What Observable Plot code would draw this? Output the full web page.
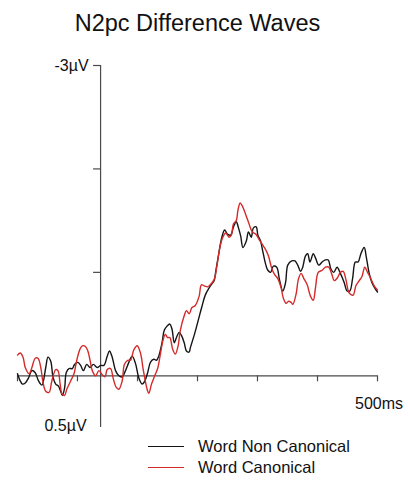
<!DOCTYPE html>
<html>
<head>
<meta charset="utf-8">
<script src="https://cdn.jsdelivr.net/npm/d3@7"></script>
<script src="https://cdn.jsdelivr.net/npm/@observablehq/plot@0.6"></script>
<style>
  html, body { margin: 0; padding: 0; background: #fff; }
  body { width: 410px; height: 480px; overflow: hidden; font-family: "Liberation Sans", Arial, sans-serif; color: #111; }
  #title { box-sizing: border-box; height: 40px; width: 395px; padding-top: 10px; text-align: center; font-size: 23.5px; line-height: 27px; }
  #chart svg { display: block; }
  #legend { box-sizing: border-box; padding-top: 1px; padding-left: 148px; }
  .row { display: flex; align-items: center; height: 21px; font-size: 16.5px; line-height: 21px; }
  .swatch { width: 36px; height: 0; border-top: 1.4px solid; margin-right: 14px; }
</style>
</head>
<body>
<div id="title"></div>
<div id="chart"></div>
<div id="legend"></div>
<script>
const title = "N2pc Difference Waves";
const seriesNames = ["Word Non Canonical", "Word Canonical"];
const seriesColors = ["#141414", "#d42a2a"];

// Word Non Canonical (black): time in ms, amplitude in µV (negative plotted up)
const ncTime = [-150,-145,-141,-136,-130,-124,-118,-112,-106,-99,-95,-90,-86,-81,-76,-72,-69,-65,-62,-57,-51,-47,-41,-36,-31,-25,-19,-13,-6,0,6,12,16,21,27,33,39,45,51,57,63,69,75,79,85,90,96,101,105,111,115,120,125,129,133,137,142,146,151,155,160,162,170,177,183,189,196,201,205,208,213,219,224,229,235,240,245,249,253,257,263,267,272,276,281,284,289,293,298,302,307,312,318,323,329,334,338,345,351,356,361,365,370,374,378,384,388,394,400,406,411,416,421,427,433,440,445,450,455,460,465,470,476,480,485,490,496,500];
const ncValues = [-0.02,0.05,0.08,0.07,0.02,-0.05,-0.03,0.05,0.09,-0.08,-0.18,-0.14,0.01,0.08,0.10,0.15,0.19,0.12,-0.03,-0.07,-0.07,-0.11,-0.13,-0.10,-0.05,-0.11,-0.08,-0.11,-0.08,-0.10,-0.10,-0.19,-0.24,-0.18,-0.05,0.00,0.01,-0.05,-0.13,-0.19,-0.12,0.02,0.08,0.06,-0.03,-0.13,-0.16,-0.15,-0.19,-0.32,-0.44,-0.48,-0.50,-0.45,-0.32,-0.37,-0.42,-0.39,-0.32,-0.24,-0.23,-0.27,-0.41,-0.55,-0.67,-0.78,-0.85,-0.89,-0.92,-1.01,-1.17,-1.34,-1.41,-1.37,-1.36,-1.44,-1.49,-1.43,-1.35,-1.24,-1.30,-1.39,-1.34,-1.43,-1.44,-1.36,-1.30,-1.20,-1.08,-1.02,-1.00,-1.06,-1.05,-0.93,-0.82,-0.90,-1.07,-1.11,-1.11,-1.07,-1.01,-1.05,-1.16,-1.18,-1.10,-1.18,-1.14,-1.07,-1.10,-1.12,-1.12,-1.03,-1.00,-1.05,-0.99,-0.90,-0.82,-0.82,-0.94,-1.10,-1.10,-1.18,-1.24,-1.14,-0.99,-0.90,-0.84,-0.81];

// Word Canonical (red)
const cTime = [-150,-145,-140,-136,-129,-124,-118,-113,-108,-104,-99,-93,-88,-81,-77,-73,-70,-65,-61,-54,-48,-43,-37,-33,-27,-23,-19,-15,-9,-3,3,8,12,18,23,28,33,39,43,49,54,60,66,72,77,84,87,92,97,103,108,113,117,121,125,130,135,140,144,151,155,160,165,171,178,182,187,193,198,205,210,215,220,226,232,236,240,245,248,252,256,262,268,274,280,286,292,298,303,309,314,320,326,330,335,339,344,347,353,357,362,367,373,379,384,388,393,400,406,412,417,422,428,433,438,443,449,456,461,467,472,477,482,487,494,500];
const cValues = [-0.20,-0.22,-0.18,-0.08,-0.02,-0.08,-0.17,-0.17,-0.08,0.06,0.15,0.16,0.05,-0.06,-0.05,0.08,0.17,0.19,0.13,0.05,-0.02,-0.15,-0.26,-0.29,-0.28,-0.24,-0.15,-0.05,0.00,-0.05,-0.01,0.01,-0.06,-0.07,0.03,0.11,0.13,0.05,-0.11,-0.15,-0.15,-0.25,-0.29,-0.22,-0.06,0.13,0.17,0.08,0.01,-0.07,-0.21,-0.35,-0.40,-0.37,-0.37,-0.26,-0.21,-0.29,-0.44,-0.58,-0.63,-0.60,-0.66,-0.68,-0.77,-0.88,-0.87,-0.86,-0.88,-0.93,-1.06,-1.23,-1.33,-1.38,-1.34,-1.36,-1.47,-1.50,-1.60,-1.67,-1.64,-1.56,-1.47,-1.39,-1.37,-1.32,-1.27,-1.22,-1.16,-1.04,-0.98,-0.94,-0.85,-0.75,-0.70,-0.72,-0.71,-0.69,-0.79,-0.93,-0.99,-0.94,-0.88,-0.77,-0.73,-0.85,-1.00,-1.02,-1.05,-1.05,-0.99,-0.92,-0.95,-1.00,-1.01,-0.93,-0.80,-0.78,-0.87,-0.92,-0.96,-1.05,-1.00,-0.95,-0.87,-0.83];

const xDomain = [-150, 500];
const yDomain = [-3, 0.5];
const xTicks = [-150, -41.7, 66.7, 175, 283.3, 391.7, 500];
const yTicks = [-3, -2, -1];
const xLabelValue = [500];
const xLabelText = ["500ms"];
const yTopLabel = [-3];
const yTopText = ["-3µV"];
const yBottomLabel = [0.5];
const yBottomText = ["0.5µV"];

const W = 410, H = 395, mL = 17, mR = 33, mT = 25, mB = 8;
const pxPerMs = (W - mL - mR) / (xDomain[1] - xDomain[0]);
const pxPerUv = (H - mT - mB) / (yDomain[1] - yDomain[0]);
const yTickLen = 7 / pxPerMs;
const xTickLen = 6 / pxPerUv;

const rows = [
  ...ncTime.map((t, i) => ({t, v: ncValues[i], s: seriesNames[0]})),
  ...cTime.map((t, i) => ({t, v: cValues[i], s: seriesNames[1]}))
];

document.getElementById("title").textContent = title;

const axisColor = "#4a4a4a";
const chart = Plot.plot({
  width: W, height: H,
  marginLeft: mL, marginRight: mR, marginTop: mT, marginBottom: mB,
  x: {domain: xDomain, axis: null},
  y: {domain: yDomain, reverse: true, axis: null},
  color: {domain: seriesNames, range: seriesColors},
  style: {fontFamily: "'Liberation Sans', Arial, sans-serif", fontSize: "16px", background: "white", overflow: "visible", color: "#111"},
  marks: [
    Plot.ruleY([0], {stroke: axisColor, strokeWidth: 1.2}),
    Plot.ruleX([0], {stroke: axisColor, strokeWidth: 1.2}),
    Plot.ruleY(yTicks, {x1: -yTickLen, x2: 0, stroke: axisColor, strokeWidth: 1.2}),
    Plot.ruleX(xTicks, {y1: 0, y2: xTickLen, stroke: axisColor, strokeWidth: 1.2}),
    Plot.line(rows, {x: "t", y: "v", z: "s", stroke: "s", strokeWidth: 1.4, curve: "catmull-rom"}),
    Plot.text(yTopLabel, {x: 0, y: d => d, text: (d, i) => yTopText[i], textAnchor: "end", dx: -12, fill: "#111"}),
    Plot.text(yBottomLabel, {x: 0, y: d => d, text: (d, i) => yBottomText[i], textAnchor: "end", dx: -14, dy: -2, fill: "#111"}),
    Plot.text(xLabelValue, {x: d => d, y: 0, text: (d, i) => xLabelText[i], textAnchor: "middle", dx: 1.5, dy: 28, fill: "#111"})
  ]
});
document.getElementById("chart").appendChild(chart);

const legend = document.getElementById("legend");
seriesNames.forEach((name, i) => {
  const row = document.createElement("div");
  row.className = "row";
  const sw = document.createElement("span");
  sw.className = "swatch";
  sw.style.borderTopColor = seriesColors[i];
  const label = document.createElement("span");
  label.textContent = name;
  row.appendChild(sw);
  row.appendChild(label);
  legend.appendChild(row);
});
</script>
</body>
</html>
